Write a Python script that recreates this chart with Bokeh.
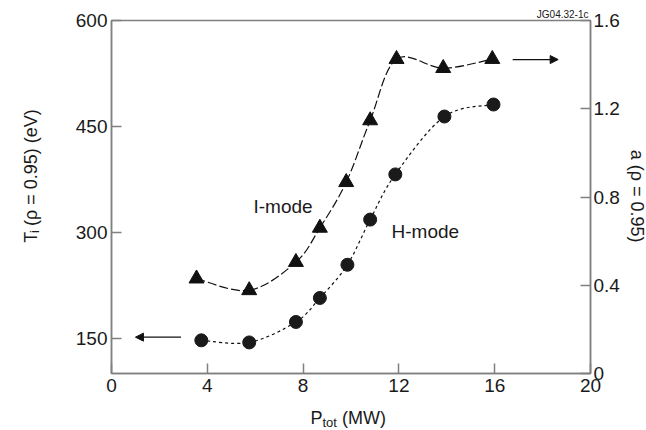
import math
from bokeh.plotting import figure
from bokeh.layouts import column, row
from bokeh.models import (Range1d, LinearAxis, FixedTicker, CustomJSTickFormatter,
                          Title, Arrow, NormalHead, ColumnDataSource)
from bokeh.core.properties import value
from bokeh.embed import file_html
from bokeh.resources import INLINE

# ---- data ----
x_ticks = [0, 4, 8, 12, 16, 20]
ti_ticks = [150, 300, 450, 600]
a_ticks = [0, 0.4, 0.8, 1.2, 1.6]

# I-mode: a(rho=0.95), right axis (triangles)
imode_p = [3.55, 5.75, 7.7, 8.7, 9.8, 10.8, 11.9, 13.85, 15.9]
imode_a = [0.43, 0.377, 0.505, 0.66, 0.867, 1.147, 1.425, 1.384, 1.425]
# H-mode: Ti(rho=0.95), left axis (circles)
hmode_p = [3.75, 5.75, 7.7, 8.7, 9.85, 10.8, 11.85, 13.9, 15.95]
hmode_ti = [147, 144, 173, 207, 254, 318, 382, 464, 481]

FONT = "Liberation Sans"
AXC = "#808080"
TXT = "#1a1a1a"

# layout: [left title | main plot | right title] over [bottom title]
LW, MW, RW = 45, 577, 24
TOPH, BOTH = 402, 28
FL, FT, FR, FB = 111, 20, 590, 373          # frame edges on the page
FW, FH = FR - FL, FB - FT

p = figure(width=MW, height=TOPH, x_range=Range1d(0, 20), y_range=Range1d(100, 600),
           output_backend="svg", toolbar_location=None,
           min_border_left=FL - LW, min_border_right=LW + MW - FR,
           min_border_top=FT, min_border_bottom=TOPH - FB)
p.extra_y_ranges = {"a": Range1d(0, 1.6)}
p.xgrid.visible = False
p.ygrid.visible = False
p.outline_line_color = AXC
p.outline_line_width = 1.5

ra = LinearAxis(y_range_name="a")
p.add_layout(ra, "right")

fmt = CustomJSTickFormatter(code="return tick.toString();")
for ax, ticks, standoff in ((p.xaxis[0], x_ticks, 5), (p.yaxis[0], ti_ticks, 4), (ra, a_ticks, 3)):
    ax.ticker = FixedTicker(ticks=ticks, minor_ticks=[])
    ax.formatter = fmt
    ax.axis_line_color = AXC
    ax.axis_line_width = 1.5
    ax.major_tick_line_color = AXC
    ax.major_tick_line_width = 1.5
    ax.major_tick_in = 10
    ax.major_tick_out = 0
    ax.minor_tick_line_color = None
    ax.major_label_text_font = FONT
    ax.major_label_text_font_size = "19px"
    ax.major_label_text_color = TXT
    ax.major_label_standoff = standoff


def catmull(xs, ys):
    n = len(xs)
    d = dict(x0=[], y0=[], x1=[], y1=[], cx0=[], cy0=[], cx1=[], cy1=[])
    for i in range(n - 1):
        im = max(i - 1, 0)
        ip2 = min(i + 2, n - 1)
        d["x0"].append(xs[i]); d["y0"].append(ys[i])
        d["x1"].append(xs[i + 1]); d["y1"].append(ys[i + 1])
        d["cx0"].append(xs[i] + (xs[i + 1] - xs[im]) / 6.0)
        d["cy0"].append(ys[i] + (ys[i + 1] - ys[im]) / 6.0)
        d["cx1"].append(xs[i + 1] - (xs[ip2] - xs[i]) / 6.0)
        d["cy1"].append(ys[i + 1] - (ys[ip2] - ys[i]) / 6.0)
    return ColumnDataSource(d)

p.bezier(x0="x0", y0="y0", x1="x1", y1="y1", cx0="cx0", cy0="cy0", cx1="cx1", cy1="cy1",
         source=catmull(imode_p, imode_a), y_range_name="a",
         line_color="#111111", line_width=1.2, line_dash="9 3")
p.bezier(x0="x0", y0="y0", x1="x1", y1="y1", cx0="cx0", cy0="cy0", cx1="cx1", cy1="cy1",
         source=catmull(hmode_p, hmode_ti),
         line_color="#111111", line_width=1.2, line_dash="3 3")

p.scatter(imode_p, imode_a, y_range_name="a", marker="triangle", size=15,
          fill_color="#111111", line_color="#111111")
p.scatter(hmode_p, hmode_ti, marker="circle", size=13,
          fill_color="#1a1a1a", line_color="#1a1a1a")

# arrows pointing to the axis each series belongs to
p.add_layout(Arrow(end=NormalHead(size=8, fill_color="#111111", line_color="#111111"),
                   x_start=2.9, y_start=151.5, x_end=1.0, y_end=151.5,
                   line_color="#111111", line_width=1.3))
p.add_layout(Arrow(end=NormalHead(size=8, fill_color="#111111", line_color="#111111"),
                   x_start=16.75, y_start=1.423, x_end=18.65, y_end=1.423, y_range_name="a",
                   line_color="#111111", line_width=1.3))

def px2x(px):
    return (px - FL) / FW * 20.0

def py2ti(py):
    return 100 + (FB - py) / FH * 500.0

def txt(fig, x, y, s, size="19px", **kw):
    fig.text(x=[x], y=[y], text=[s], text_font=value(FONT), text_font_size=value(size),
             text_color=TXT, **kw)

txt(p, px2x(253), py2ti(206), "I-mode", text_baseline="middle")
txt(p, px2x(391), py2ti(231), "H-mode", text_baseline="middle")

# figure id above the frame
p.add_layout(Title(text="JG04.32-1c", align="right", text_font=FONT, text_font_size="10px",
                   text_font_style="normal", text_color=TXT, standoff=2, offset=2), "above")

def side_fig(w, h):
    f = figure(width=w, height=h, x_range=Range1d(0, w), y_range=Range1d(0, h),
               output_backend="svg", toolbar_location=None, min_border=0,
               x_axis_location=None, y_axis_location=None)
    f.xgrid.visible = False
    f.ygrid.visible = False
    f.outline_line_color = None
    return f

# left axis title: T_i (rho = 0.95) (eV)  -- page coords (x, y from top)
lf = side_fig(LW, TOPH)
txt(lf, 30, TOPH - 253, "T", size="18px", angle=math.pi / 2, text_baseline="alphabetic")
txt(lf, 34, TOPH - 242, "i", size="13px", angle=math.pi / 2, text_baseline="alphabetic")
txt(lf, 30, TOPH - 234, "(ρ = 0.95) (eV)", size="18px", angle=math.pi / 2,
    text_baseline="alphabetic")

# right axis title
rf = side_fig(RW, TOPH)
txt(rf, 636 - (LW + MW), TOPH - 200, "a (ρ = 0.95)", size="18px", angle=-math.pi / 2,
    text_align="center", text_baseline="middle")

# bottom axis title: P_tot (MW)
H = TOPH + BOTH
bf = side_fig(LW + MW + RW, BOTH)
txt(bf, 310, H - 417, "P", size="18px", text_baseline="alphabetic")
txt(bf, 322, H - 422, "tot", size="13px", text_baseline="alphabetic")
txt(bf, 341.5, H - 417, "(MW)", size="18px", text_baseline="alphabetic")

layout = column(row(lf, p, rf, spacing=0), bf, spacing=0)
open("out.html", "w").write(file_html(layout, INLINE))
